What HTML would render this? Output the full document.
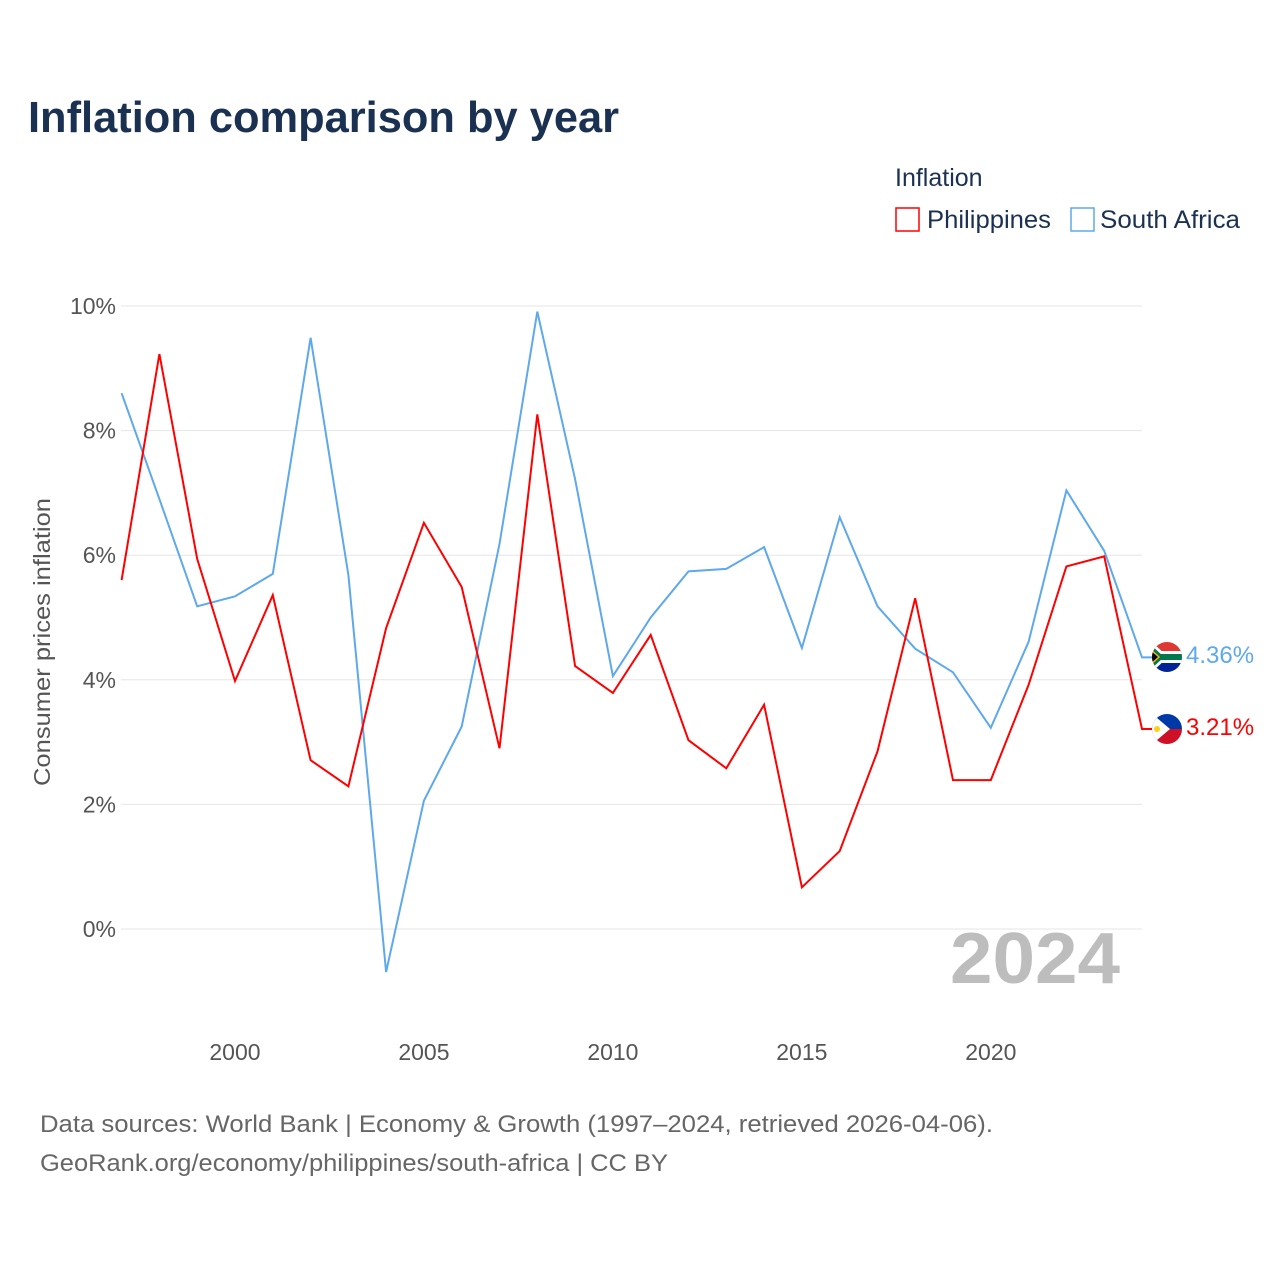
<!DOCTYPE html>
<html><head><meta charset="utf-8"><style>
body{margin:0;background:#fff;font-family:"Liberation Sans",sans-serif;}
svg text{font-family:"Liberation Sans",sans-serif;}
</style></head><body>
<svg width="1280" height="1280" xmlns="http://www.w3.org/2000/svg">
<text x="28" y="132" font-size="44" font-weight="bold" fill="#1b3152" textLength="591" lengthAdjust="spacingAndGlyphs">Inflation comparison by year</text>
<text x="895" y="186" font-size="25" fill="#1b3152">Inflation</text>
<g><rect x="896" y="208" width="23" height="23" fill="none" stroke="#f00" stroke-width="1.5"/><text x="927" y="228" font-size="25" fill="#1b3152" textLength="124" lengthAdjust="spacingAndGlyphs">Philippines</text></g>
<g><rect x="1071" y="208" width="23" height="23" fill="none" stroke="#5ea8ec" stroke-width="1.5"/><text x="1100" y="228" font-size="25" fill="#1b3152" textLength="140" lengthAdjust="spacingAndGlyphs">South Africa</text></g>
<g id="grid"></g>
<g id="xt"></g>
<text transform="translate(50,642) rotate(-90)" text-anchor="middle" font-size="23" fill="#555" textLength="288" lengthAdjust="spacingAndGlyphs">Consumer prices inflation</text>
<text x="950" y="983" font-size="72" font-weight="bold" fill="#bdbdbd" textLength="170" lengthAdjust="spacingAndGlyphs">2024</text>
<g id="lines"></g>
<g>
<clipPath id="c1"><circle cx="1167" cy="657" r="15"/></clipPath>
<g clip-path="url(#c1)"><rect x="1150" y="640" width="34" height="17" fill="#de3831"/><rect x="1150" y="657" width="34" height="17" fill="#002395"/><polygon points="1150,640 1168,657 1150,674" fill="#fff"/><rect x="1160" y="651" width="24" height="12" fill="#fff"/><rect x="1160" y="654" width="24" height="6" fill="#007a4d"/><polygon points="1150,644 1164,657 1150,670" fill="#007a4d"/><polygon points="1150,648 1160,657 1150,666" fill="#ffb612"/><polygon points="1150,650 1158,657 1150,664" fill="#000"/></g></g>
<g>
<clipPath id="c2"><circle cx="1167" cy="729" r="15"/></clipPath>
<g clip-path="url(#c2)"><rect x="1150" y="712" width="34" height="17" fill="#0038a8"/><rect x="1150" y="729" width="34" height="17" fill="#ce1126"/><polygon points="1150,712 1170,729 1150,746" fill="#fff"/><circle cx="1157" cy="729" r="3" fill="#fcd116"/></g></g>
<text x="1186" y="663" font-size="24" fill="#5ea8ec">4.36%</text>
<text x="1186" y="735" font-size="24" fill="#f00">3.21%</text>
<text x="40" y="1132" font-size="24" fill="#666" textLength="953" lengthAdjust="spacingAndGlyphs">Data sources: World Bank | Economy &amp; Growth (1997–2024, retrieved 2026-04-06).</text>
<text x="40" y="1171" font-size="24" fill="#666" textLength="628" lengthAdjust="spacingAndGlyphs">GeoRank.org/economy/philippines/south-africa | CC BY</text>
</svg>
<script>
const years=[1997,1998,1999,2000,2001,2002,2003,2004,2005,2006,2007,2008,2009,2010,2011,2012,2013,2014,2015,2016,2017,2018,2019,2020,2021,2022,2023,2024];
const philippines=[5.6,9.23,5.94,3.98,5.36,2.71,2.29,4.83,6.52,5.49,2.90,8.26,4.22,3.79,4.72,3.03,2.58,3.60,0.67,1.25,2.85,5.31,2.39,2.39,3.92,5.82,5.98,3.21];
const southAfrica=[8.6,6.9,5.18,5.34,5.70,9.49,5.68,-0.69,2.06,3.25,6.18,9.91,7.22,4.06,5.0,5.74,5.78,6.13,4.51,6.61,5.18,4.5,4.12,3.23,4.61,7.04,6.07,4.36];
const yTicks=[0,2,4,6,8,10];
const xTicks=[2000,2005,2010,2015,2020];
const NS="http://www.w3.org/2000/svg";
const xs=y=>121.6+(y-1997)*(1142-121.6)/27;
const ys=v=>929-v*62.3;
const grid=document.getElementById('grid'),xt=document.getElementById('xt'),lines=document.getElementById('lines');
yTicks.forEach(t=>{
 const l=document.createElementNS(NS,'line');
 
 
 l.setAttribute('x1',121);l.setAttribute('x2',1142);l.setAttribute('y1',ys(t));l.setAttribute('y2',ys(t));
 l.setAttribute('stroke','#e6e6e6');grid.appendChild(l);
 const tx=document.createElementNS(NS,'text');
 
 
 tx.setAttribute('x',116);tx.setAttribute('y',ys(t)+8);tx.setAttribute('text-anchor','end');
 tx.setAttribute('font-size','23');tx.setAttribute('fill','#555');tx.textContent=t+'%';grid.appendChild(tx);
});
xTicks.forEach(t=>{
 const tx=document.createElementNS(NS,'text');
 
 
 tx.setAttribute('x',xs(t));tx.setAttribute('y',1060);tx.setAttribute('text-anchor','middle');
 tx.setAttribute('font-size','23');tx.setAttribute('fill','#555');tx.textContent=t;xt.appendChild(tx);
});
function draw(vals,color,name){
 let d=vals.map((v,i)=>(i?'L':'M')+xs(years[i]).toFixed(1)+','+ys(v).toFixed(1)).join(' ');
 d+=' L1152,'+ys(vals[vals.length-1]).toFixed(1);
 const p=document.createElementNS(NS,'path');
 
 
 p.setAttribute('d',d);p.setAttribute('fill','none');p.setAttribute('stroke',color);p.setAttribute('stroke-width','2');
 lines.appendChild(p);
}
draw(southAfrica,'#5ea8ec','line-south-africa');
draw(philippines,'#f00','line-philippines');
</script>
</body></html>
